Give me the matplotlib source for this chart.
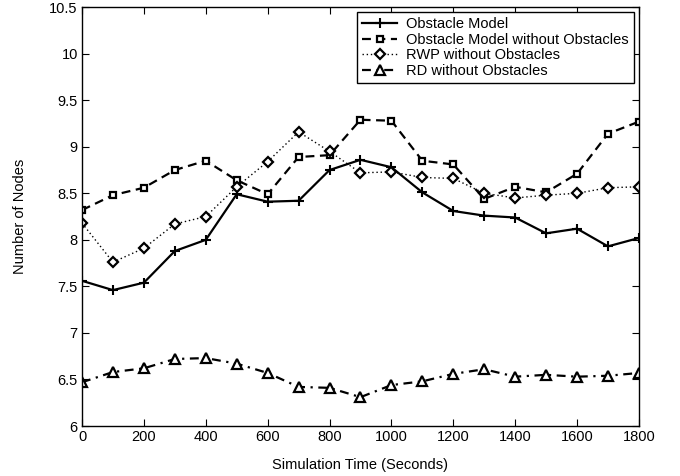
import matplotlib.pyplot as plt

plt.rcParams['font.family'] = ['Liberation Sans', 'DejaVu Sans']

time = [0, 100, 200, 300, 400, 500, 600, 700, 800, 900, 1000,
        1100, 1200, 1300, 1400, 1500, 1600, 1700, 1800]
obstacle = [7.56, 7.46, 7.54, 7.88, 8.00, 8.49, 8.41, 8.42, 8.75, 8.86, 8.78,
            8.51, 8.31, 8.26, 8.24, 8.07, 8.12, 7.93, 8.02]
obstacle_free = [8.32, 8.48, 8.56, 8.75, 8.85, 8.64, 8.49, 8.89, 8.91, 9.29, 9.28,
                 8.85, 8.81, 8.44, 8.57, 8.51, 8.71, 9.14, 9.27]
rwp = [8.18, 7.76, 7.91, 8.17, 8.25, 8.57, 8.84, 9.16, 8.95, 8.72, 8.73,
       8.67, 8.66, 8.50, 8.45, 8.48, 8.50, 8.56, 8.57]
rd = [6.47, 6.58, 6.62, 6.72, 6.73, 6.67, 6.57, 6.42, 6.41, 6.31, 6.44,
      6.48, 6.56, 6.61, 6.53, 6.55, 6.53, 6.54, 6.57]

fig = plt.figure(figsize=(6.8, 4.76), dpi=100)
ax = fig.add_axes([0.1206, 0.105, 0.819, 0.88])

fs = 10.5
ax.plot(time, obstacle, 'k-', marker='+', ms=7, mew=1.5, lw=1.6, label='Obstacle Model')
ax.plot(time, obstacle_free, 'k', ls=(0, (4, 2.5)), marker='s', ms=4.5, mfc='white',
        mew=1.6, lw=1.6, label='Obstacle Model without Obstacles')
ax.plot(time, rwp, 'k', ls=(0, (1, 2)), marker='D', ms=5.5, mfc='white', mew=1.6, lw=1.0,
        label='RWP without Obstacles')
ax.plot(time, rd, 'k', ls=(0, (4, 2.5, 1, 2.5)), marker='^', ms=7, mfc='white', mew=1.6,
        lw=1.6, label='RD without Obstacles')

ax.set_xlim(0, 1800)
ax.set_ylim(6, 10.5)
ax.set_xticks(range(0, 1801, 200))
ax.set_yticks([6, 6.5, 7, 7.5, 8, 8.5, 9, 9.5, 10, 10.5])
ax.set_yticklabels(['6', '6.5', '7', '7.5', '8', '8.5', '9', '9.5', '10', '10.5'])
ax.tick_params(direction='in', top=True, right=True, labelsize=fs, length=5, pad=3)
for s in ax.spines.values():
    s.set_linewidth(1.0)
ax.set_xlabel('Simulation Time (Seconds)', fontsize=fs, labelpad=10)
ax.set_ylabel('Number of Nodes', fontsize=fs, labelpad=16)

leg = ax.legend(loc='upper right', fontsize=fs, fancybox=False, framealpha=1,
                edgecolor='black', handlelength=2.4, handletextpad=0.6,
                borderpad=0.35, labelspacing=0.1, borderaxespad=0.35)
leg.get_frame().set_linewidth(1.0)

fig.savefig('out.png', dpi=100)
